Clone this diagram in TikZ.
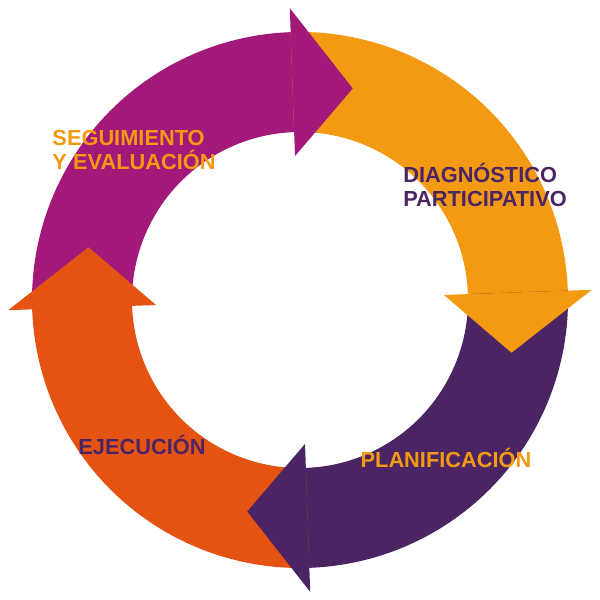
\documentclass[tikz,border=0pt]{standalone}
\usepackage{fontspec}
\setmainfont{Liberation Sans}
\usetikzlibrary{calc}
\definecolor{cmag}{HTML}{A3197A}
\definecolor{cora}{HTML}{F39A12}
\definecolor{cpur}{HTML}{4B2563}
\definecolor{cred}{HTML}{E55312}
\begin{document}
\begin{tikzpicture}
\useasboundingbox (0,0) rectangle (6,6);
\coordinate (c) at (3,3);
\tikzset{lbl/.style={font=\fontsize{6.2}{7}\selectfont\bfseries, align=left}}
\newcommand{\segbody}[3]{%
  \fill[#3] ($(c)+(#1:2.68)$) arc[start angle=#1, end angle=#2, radius=2.68]
    -- ($(c)+(#2:1.68)$) arc[start angle=#2, end angle=#1, radius=1.68] -- cycle;}
\newcommand{\seghead}[2]{%
  \fill[#2] ($(c)+(#1:2.92)$) -- ($(c)+(#1-16:2.18)$) -- ($(c)+(#1:1.44)$) -- cycle;}
\segbody{182}{91}{cmag}
\segbody{92}{1}{cora}
\segbody{2}{-89}{cpur}
\segbody{-88}{-179}{cred}
\seghead{92}{cmag}
\seghead{2}{cora}
\seghead{-88}{cpur}
\seghead{182}{cred}
\node[lbl, text=cora] (seg) at (1.34,4.5) {SEGUIMIENTO\\Y EVALUACIÓN};
\node[lbl, text=cpur] (dia) at (4.85,4.15) {DIAGNÓSTICO\\PARTICIPATIVO};
\node[lbl, text=cora] (pla) at (4.46,1.42) {PLANIFICACIÓN};
\node[lbl, text=cpur] (eje) at (1.42,1.55) {EJECUCIÓN};
\end{tikzpicture}
\end{document}
